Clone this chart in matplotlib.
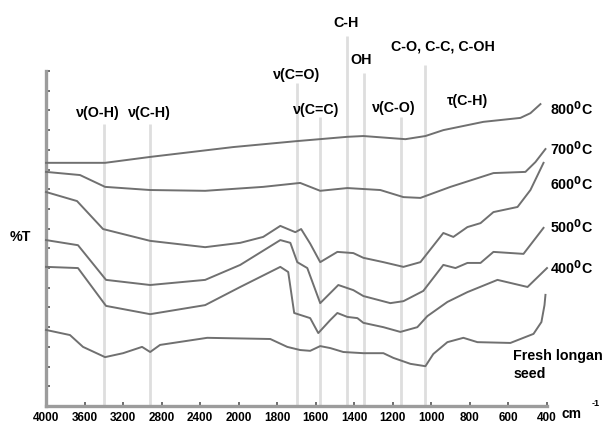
import numpy as np
import matplotlib
matplotlib.use("Agg")
import matplotlib.pyplot as plt

plt.rcParams["font.family"] = ["Liberation Sans", "DejaVu Sans"]
plt.rcParams["font.weight"] = "bold"

LINE = "#707070"
MARK = "#dedede"
AXIS = "#9c9c9c"

# spectra (wavenumber cm-1, %T with vertical offsets)
wn_800 = [4000, 3387, 2919, 2057, 1701, 1436, 1353, 1135, 1031, 938, 730, 538, 486, 434]
t_800 = [61.7, 61.7, 63.2, 65.7, 67.2, 68.3, 68.5, 67.7, 68.5, 70.0, 72.1, 73.1, 74.3, 76.6]

wn_700 = [4000, 3647, 3387, 2919, 2348, 1873, 1681, 1577, 1436, 1265, 1145, 1057, 901, 678, 512, 460, 408]
t_700 = [59.4, 58.6, 55.6, 54.8, 54.6, 55.6, 56.6, 54.6, 55.3, 54.8, 53.0, 52.8, 55.6, 59.1, 59.4, 61.9, 65.2]

wn_600 = [4000, 3678, 3408, 2919, 2348, 1992, 1873, 1784, 1706, 1676, 1629, 1577, 1488, 1405, 1353,
          1249, 1145, 1057, 938, 886, 813, 745, 678, 553, 486, 418]
t_600 = [54.3, 52.0, 44.9, 41.9, 40.3, 41.4, 42.9, 45.7, 44.1, 44.9, 41.2, 36.5, 39.1, 38.8, 37.6,
         36.5, 35.3, 36.5, 43.9, 42.9, 45.4, 46.4, 49.2, 50.5, 54.8, 61.7]

wn_500 = [4000, 3668, 3377, 2919, 2348, 1992, 1784, 1732, 1696, 1644, 1577, 1483, 1405, 1353, 1213,
          1145, 1042, 938, 875, 813, 745, 678, 522, 418]
t_500 = [42.1, 40.8, 32.0, 30.7, 32.0, 35.8, 42.1, 41.4, 36.5, 35.0, 26.1, 30.7, 29.4, 27.9, 26.1,
         26.6, 29.2, 35.8, 35.0, 36.3, 36.3, 39.1, 38.6, 45.2]

wn_400 = [4000, 3668, 3377, 2919, 2348, 1992, 1784, 1743, 1712, 1629, 1587, 1525, 1488, 1436, 1384,
          1353, 1249, 1161, 1073, 1021, 917, 813, 657, 501, 400]
t_400 = [35.3, 35.0, 25.4, 23.3, 25.6, 30.2, 35.3, 34.0, 23.6, 22.3, 18.5, 21.8, 23.6, 22.6, 22.3,
         21.1, 20.0, 18.8, 20.0, 22.8, 26.4, 28.9, 32.0, 30.2, 35.0]

wn_fresh = [4000, 3751, 3616, 3387, 3200, 3003, 2919, 2816, 2327, 1836, 1748, 1681, 1629, 1577, 1525,
            1457, 1353, 1249, 1197, 1109, 1031, 990, 917, 834, 761, 590, 470, 429, 413, 408]
t_fresh = [19.3, 18.0, 15.0, 12.4, 13.4, 15.0, 13.7, 15.5, 17.3, 17.0, 15.0, 14.2, 14.0, 15.2, 14.7,
           13.7, 13.4, 13.4, 12.2, 10.7, 10.1, 13.2, 16.2, 17.3, 16.2, 16.0, 18.3, 21.3, 25.6, 28.2]

# band assignments: position, top of marker line, label text, label anchor
band_wn = [3400, 2920, 1700, 1580, 1440, 1350, 1160, 1035]
band_top = [71.5, 71.5, 82.0, 73.3, 93.9, 84.5, 73.3, 86.5]
band_text = ["ν(O-H)", "ν(C-H)", "ν(C=O)", "ν(C=C)", "C-H", "OH", "ν(C-O)", "C-O, C-C, C-OH"]
band_lx = [3460, 2925, 1701, 1597, 1441, 1364, 1197, 938]
band_ly = [74.3, 74.3, 84.0, 75.1, 97.2, 87.8, 75.6, 91.3]
extra_text = "τ(C-H)"

temps = ["800$^0$C", "700$^0$C", "600$^0$C", "500$^0$C", "400$^0$C"]
temp_y = [75.4, 65.2, 56.3, 45.4, 35.0]

xticks = [4000, 3600, 3200, 2800, 2400, 2000, 1800, 1600, 1400, 1200, 1000, 800, 600, 400]


def fwd(w):
    w = np.asarray(w, dtype=float)
    return np.where(w <= 2000, w / 200.0, 10 + (w - 2000) / 400.0)


def inv(u):
    u = np.asarray(u, dtype=float)
    return np.where(u <= 10, u * 200.0, 2000 + (u - 10) * 400.0)


fig = plt.figure(figsize=(6.1, 4.24), dpi=100)
ax = fig.add_axes([46 / 610, 18 / 424, 501 / 610, 335 / 424])
ax.set_xscale("function", functions=(fwd, inv))
ax.set_xlim(4000, 400)
ax.set_ylim(0, 85)

ax.vlines(band_wn, 0, band_top, colors=MARK, linewidth=2.0, clip_on=False, zorder=1)

for w, t in [(wn_800, t_800), (wn_700, t_700), (wn_600, t_600),
             (wn_500, t_500), (wn_400, t_400), (wn_fresh, t_fresh)]:
    ax.plot(w, t, color=LINE, linewidth=1.4, zorder=3, clip_on=False)

for x, y, s in zip(band_lx, band_ly, band_text):
    ax.text(x, y, s, ha="center", va="center", fontsize=10.3, fontweight="bold")
ax.text(813, 77.4, extra_text, ha="center", va="center", fontsize=10.3, fontweight="bold")

for s, y in zip(temps, temp_y):
    ax.text(387, y, s, ha="left", va="center", fontsize=10.3, fontweight="bold")
ax.text(574, 10.4, "Fresh longan\nseed", ha="left", va="center", fontsize=10.3,
        fontweight="bold", linespacing=1.3)

for side in ("top", "right"):
    ax.spines[side].set_visible(False)
for side in ("left", "bottom"):
    ax.spines[side].set_color(AXIS)
    ax.spines[side].set_linewidth(2.4)

ax.set_xticks(xticks)
ax.set_xticklabels([str(v) for v in xticks])
ax.minorticks_off()
ax.set_yticks(np.arange(0, 86, 5))
ax.set_yticklabels([])
ax.tick_params(axis="both", direction="in", length=3, width=1.2, color="#555555")
ax.tick_params(axis="x", labelsize=8.5, pad=4)

fig.text(10 / 610, 1 - 237 / 424, "%T", ha="left", va="center", fontsize=10.3, fontweight="bold")
fig.text(561 / 610, 1 - 414 / 424, "cm", ha="left", va="center", fontsize=10, fontweight="bold")
fig.text(592 / 610, 1 - 404 / 424, "-1", ha="left", va="center", fontsize=6.5, fontweight="bold")

fig.savefig("out.png", dpi=100, facecolor="white")
